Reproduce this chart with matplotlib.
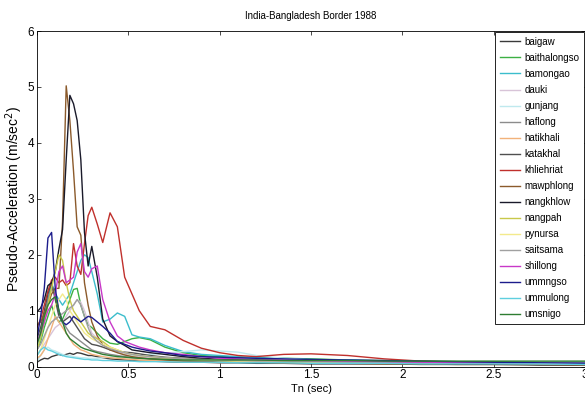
import numpy as np
import matplotlib
matplotlib.use("Agg")
import matplotlib.pyplot as plt

plt.rcParams['font.family'] = ['Liberation Sans', 'DejaVu Sans']

# period grid (sec)
tn = [0.0, 0.02, 0.04, 0.06, 0.08, 0.10, 0.12, 0.14, 0.16, 0.18, 0.20,
      0.22, 0.24, 0.26, 0.28, 0.30, 0.33, 0.36, 0.40, 0.44, 0.48, 0.52,
      0.56, 0.62, 0.70, 0.80, 0.90, 1.0, 1.1, 1.2, 1.35, 1.5, 1.7, 1.9,
      2.1, 2.3, 2.5, 2.75, 3.0]

# pseudo-acceleration (m/sec^2) per station
baigaw = [0.08, 0.12, 0.15, 0.14, 0.18, 0.20, 0.22, 0.20, 0.22, 0.24, 0.22,
          0.25, 0.24, 0.22, 0.20, 0.20, 0.18, 0.16, 0.14, 0.13, 0.12, 0.11,
          0.10, 0.10, 0.09, 0.08, 0.08, 0.07, 0.07, 0.06, 0.06, 0.05, 0.05, 0.05,
          0.04, 0.04, 0.04, 0.03, 0.03]
baithalongso = [0.30, 0.45, 0.70, 0.90, 1.10, 0.90, 0.80, 0.85, 1.00, 1.20, 1.38,
                1.40, 1.10, 0.90, 0.75, 0.70, 0.60, 0.50, 0.42, 0.40, 0.45, 0.50,
                0.52, 0.48, 0.35, 0.25, 0.20, 0.18, 0.17, 0.16, 0.15, 0.14, 0.12, 0.11,
                0.10, 0.09, 0.09, 0.08, 0.08]
bamongao = [0.30, 0.50, 0.80, 1.20, 1.50, 1.30, 1.20, 1.10, 1.20, 1.30, 1.50,
            1.70, 1.90, 2.00, 1.95, 1.70, 1.30, 0.80, 0.85, 0.96, 0.90, 0.57,
            0.53, 0.50, 0.38, 0.27, 0.22, 0.20, 0.18, 0.16, 0.15, 0.13, 0.12, 0.10,
            0.09, 0.08, 0.07, 0.07, 0.06]
dauki = [0.20, 0.30, 0.40, 0.50, 0.60, 0.70, 0.75, 0.80, 0.90, 1.00, 1.10,
         1.20, 1.15, 1.00, 0.80, 0.60, 0.50, 0.40, 0.30, 0.26, 0.22, 0.20,
         0.18, 0.16, 0.14, 0.13, 0.12, 0.11, 0.10, 0.10, 0.09, 0.08, 0.08, 0.07,
         0.06, 0.06, 0.05, 0.05, 0.05]
gunjang = [0.10, 0.20, 0.30, 0.35, 0.30, 0.28, 0.25, 0.22, 0.20, 0.20, 0.18,
           0.17, 0.16, 0.16, 0.15, 0.15, 0.15, 0.16, 0.17, 0.18, 0.19, 0.20,
           0.20, 0.22, 0.24, 0.27, 0.30, 0.28, 0.26, 0.20, 0.15, 0.12, 0.10, 0.09,
           0.08, 0.07, 0.07, 0.06, 0.06]
haflong = [0.40, 0.60, 0.90, 1.20, 1.40, 1.30, 1.00, 0.80, 0.70, 0.60, 0.55,
           0.50, 0.45, 0.40, 0.35, 0.30, 0.27, 0.25, 0.22, 0.20, 0.18, 0.16,
           0.15, 0.14, 0.13, 0.12, 0.11, 0.10, 0.10, 0.09, 0.09, 0.08, 0.08, 0.07,
           0.07, 0.06, 0.06, 0.05, 0.05]
hatikhali = [0.15, 0.20, 0.30, 0.50, 0.70, 0.90, 0.80, 0.70, 0.60, 0.50, 0.40,
             0.35, 0.30, 0.28, 0.25, 0.22, 0.20, 0.18, 0.16, 0.15, 0.14, 0.13,
             0.12, 0.11, 0.10, 0.09, 0.09, 0.08, 0.08, 0.08, 0.07, 0.07, 0.06, 0.06,
             0.06, 0.05, 0.05, 0.05, 0.04]
katakhal = [0.50, 0.70, 1.00, 1.30, 1.50, 1.20, 0.90, 0.80, 0.85, 0.90, 0.80,
            0.70, 0.60, 0.50, 0.45, 0.40, 0.38, 0.35, 0.30, 0.28, 0.26, 0.25,
            0.23, 0.20, 0.17, 0.15, 0.14, 0.13, 0.12, 0.11, 0.10, 0.10, 0.09, 0.08,
            0.08, 0.07, 0.07, 0.06, 0.06]
khliehriat = [0.70, 0.85, 1.10, 1.35, 1.55, 1.60, 1.50, 1.55, 1.45, 1.50, 2.20,
              1.80, 1.65, 2.20, 2.70, 2.85, 2.55, 2.22, 2.75, 2.50, 1.60, 1.30,
              1.00, 0.72, 0.66, 0.47, 0.33, 0.25, 0.20, 0.18, 0.22, 0.23, 0.20, 0.14,
              0.10, 0.08, 0.07, 0.06, 0.05]
mawphlong = [0.75, 0.80, 0.95, 1.10, 1.30, 1.40, 1.40, 2.60, 5.02, 4.40, 3.50,
             2.50, 2.35, 1.50, 1.10, 0.80, 0.55, 0.40, 0.30, 0.25, 0.21, 0.18,
             0.16, 0.14, 0.12, 0.10, 0.09, 0.10, 0.09, 0.08, 0.07, 0.07, 0.06, 0.05,
             0.05, 0.04, 0.04, 0.04, 0.03]
nangkhlow = [0.98, 1.05, 1.20, 1.45, 1.50, 1.70, 2.10, 2.45, 3.70, 4.85, 4.70,
             4.40, 3.70, 2.40, 1.80, 2.15, 1.60, 0.85, 0.55, 0.45, 0.38, 0.30,
             0.28, 0.25, 0.22, 0.18, 0.15, 0.13, 0.12, 0.10, 0.10, 0.09, 0.08, 0.07,
             0.06, 0.05, 0.05, 0.04, 0.04]
nangpah = [0.30, 0.50, 0.80, 1.10, 1.40, 1.70, 2.00, 1.90, 1.50, 1.20, 1.00,
           0.90, 0.80, 0.70, 0.60, 0.55, 0.50, 0.45, 0.35, 0.30, 0.25, 0.22,
           0.20, 0.18, 0.15, 0.13, 0.12, 0.11, 0.10, 0.10, 0.09, 0.09, 0.08, 0.08,
           0.07, 0.07, 0.06, 0.06, 0.05]
pynursa = [0.20, 0.30, 0.50, 0.70, 0.90, 1.10, 1.20, 1.30, 1.20, 1.00, 0.90,
           0.80, 0.70, 0.60, 0.55, 0.50, 0.45, 0.40, 0.35, 0.30, 0.25, 0.22,
           0.20, 0.18, 0.16, 0.14, 0.12, 0.11, 0.10, 0.09, 0.09, 0.08, 0.08, 0.07,
           0.07, 0.06, 0.06, 0.05, 0.05]
saitsama = [0.30, 0.40, 0.55, 0.70, 0.80, 0.85, 0.90, 0.95, 1.00, 1.05, 1.10,
            1.20, 1.10, 0.90, 0.70, 0.55, 0.45, 0.38, 0.32, 0.28, 0.25, 0.22,
            0.20, 0.18, 0.16, 0.14, 0.13, 0.12, 0.11, 0.10, 0.10, 0.09, 0.08, 0.08,
            0.07, 0.07, 0.06, 0.06, 0.05]
shillong = [0.45, 0.60, 0.80, 1.00, 1.10, 1.30, 1.70, 1.80, 1.50, 1.55, 1.60,
            2.05, 2.20, 1.70, 1.60, 1.75, 1.80, 1.20, 0.80, 0.55, 0.45, 0.40,
            0.35, 0.30, 0.25, 0.22, 0.18, 0.15, 0.14, 0.13, 0.12, 0.11, 0.10, 0.09,
            0.08, 0.07, 0.07, 0.06, 0.06]
ummngso = [0.50, 0.90, 1.40, 2.30, 2.40, 1.40, 1.00, 0.80, 0.75, 0.80, 0.90,
           0.85, 0.80, 0.85, 0.90, 0.88, 0.80, 0.72, 0.60, 0.45, 0.40, 0.35,
           0.32, 0.28, 0.25, 0.20, 0.18, 0.17, 0.16, 0.15, 0.14, 0.13, 0.12, 0.11,
           0.10, 0.09, 0.08, 0.07, 0.06]
ummulong = [0.20, 0.30, 0.35, 0.30, 0.28, 0.25, 0.22, 0.20, 0.18, 0.17, 0.16,
            0.15, 0.14, 0.13, 0.13, 0.12, 0.12, 0.11, 0.11, 0.10, 0.10, 0.10,
            0.09, 0.09, 0.09, 0.08, 0.08, 0.08, 0.07, 0.07, 0.07, 0.06, 0.06, 0.06,
            0.05, 0.05, 0.05, 0.05, 0.04]
umsnigo = [0.40, 0.60, 0.90, 1.10, 1.20, 1.25, 1.00, 0.80, 0.60, 0.50, 0.45,
           0.40, 0.35, 0.32, 0.30, 0.28, 0.25, 0.22, 0.20, 0.18, 0.17, 0.16,
           0.15, 0.14, 0.13, 0.12, 0.12, 0.12, 0.12, 0.12, 0.11, 0.11, 0.11, 0.10,
           0.10, 0.10, 0.10, 0.10, 0.10]

stations = ['baigaw', 'baithalongso', 'bamongao', 'dauki', 'gunjang', 'haflong',
            'hatikhali', 'katakhal', 'khliehriat', 'mawphlong', 'nangkhlow',
            'nangpah', 'pynursa', 'saitsama', 'shillong', 'ummngso', 'ummulong',
            'umsnigo']
series = [baigaw, baithalongso, bamongao, dauki, gunjang, haflong, hatikhali,
          katakhal, khliehriat, mawphlong, nangkhlow, nangpah, pynursa, saitsama,
          shillong, ummngso, ummulong, umsnigo]
colors = ['#3a3a3a', '#3cb043', '#3bbdcc', '#d8c4d8', '#bfe9ee', '#8c8c8c',
          '#f2b27a', '#505050', '#c0302c', '#8b5a2b', '#1a1a2a', '#c8c84a',
          '#f3ea8c', '#a0a0a0', '#c838c8', '#1c1c8c', '#5fcfdf', '#2e7d32']

fig = plt.figure(figsize=(5.85, 3.94), dpi=100)
ax = fig.add_axes([0.0632, 0.0693, 0.937, 0.852])

for name, vals, c in zip(stations, series, colors):
    ax.plot(tn, vals, color=c, lw=1.0, label=name)

ax.set_xlim(0, 3)
ax.set_ylim(0, 6)
ax.set_xticks([0, 0.5, 1, 1.5, 2, 2.5, 3])
ax.set_xticklabels(['0', '0.5', '1', '1.5', '2', '2.5', '3'])
ax.set_yticks(range(7))
ax.tick_params(direction='in', top=True, right=True, length=3, width=0.5,
               labelsize=8.5, pad=2)
for s in ax.spines.values():
    s.set_linewidth(0.6)

ax.set_title('India-Bangladesh Border 1988', fontsize=7, pad=9)
ax.set_xlabel('Tn (sec)', fontsize=8, labelpad=2)
ax.set_ylabel('Pseudo-Acceleration (m/sec$^2$)', fontsize=10, labelpad=2)

leg = ax.legend(loc='upper right', fontsize=7, fancybox=False, framealpha=1,
                edgecolor='black', borderaxespad=0.1, handlelength=2.1,
                handletextpad=0.4, labelspacing=0.62, borderpad=0.5)
leg.get_frame().set_linewidth(0.6)

fig.savefig('out.png', dpi=100)
